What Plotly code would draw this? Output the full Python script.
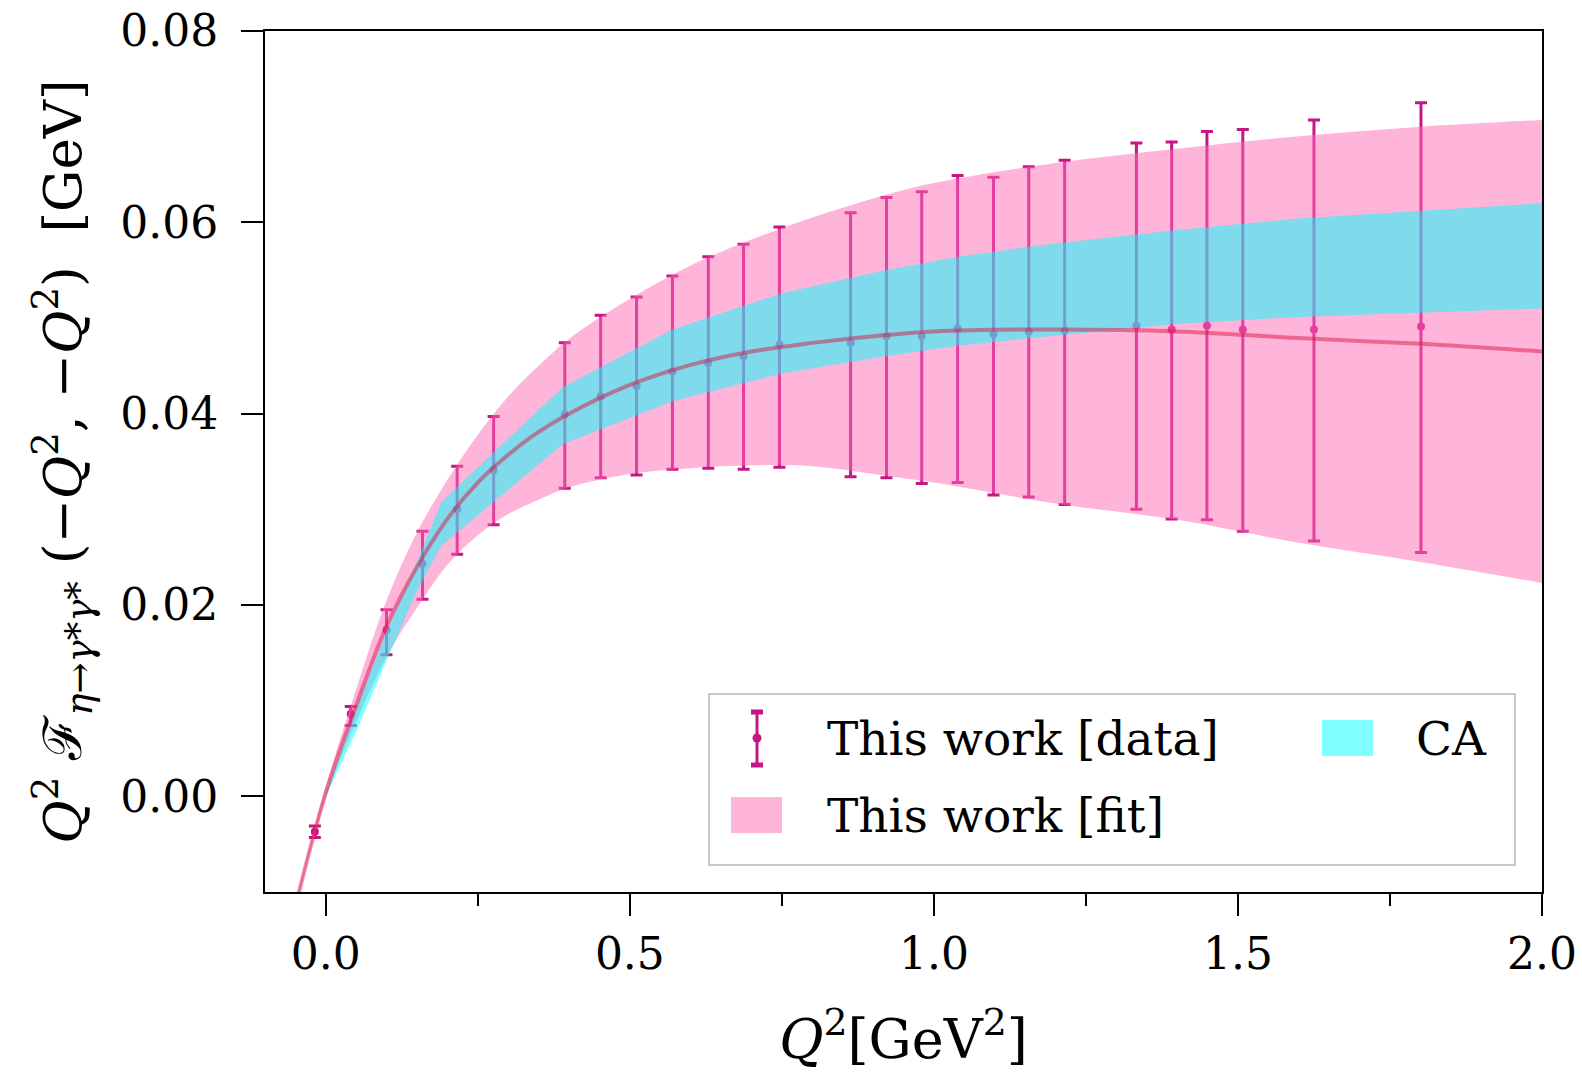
import plotly.graph_objects as go

# ---------------- data ----------------
q2_data = [-0.018, 0.041, 0.0998, 0.159, 0.216, 0.276, 0.393, 0.452, 0.511, 0.570,
           0.629, 0.687, 0.746, 0.863, 0.922, 0.980, 1.039, 1.098, 1.156, 1.215,
           1.333, 1.391, 1.449, 1.508, 1.625, 1.801]
ff_data = [-0.0037, 0.0086, 0.0174, 0.0243, 0.0300, 0.0341, 0.0399, 0.0418, 0.0429, 0.0444,
           0.0453, 0.0460, 0.0472, 0.0474, 0.0481, 0.0481, 0.0489, 0.0483, 0.0486, 0.0487,
           0.0492, 0.0488, 0.0492, 0.0488, 0.0488, 0.0491]
ff_top = [-0.0031, 0.0094, 0.0195, 0.0277, 0.0345, 0.0397, 0.0474, 0.0503, 0.0522, 0.0544,
          0.0564, 0.0577, 0.0595, 0.0610, 0.0626, 0.0632, 0.0649, 0.0647, 0.0658, 0.0665,
          0.0683, 0.0684, 0.0695, 0.0697, 0.0707, 0.0725]
ff_bottom = [-0.0043, 0.0074, 0.0148, 0.0206, 0.0253, 0.0284, 0.0322, 0.0333, 0.0336, 0.0342,
             0.0343, 0.0342, 0.0344, 0.0334, 0.0333, 0.0327, 0.0328, 0.0315, 0.0313, 0.0305,
             0.0300, 0.0290, 0.0289, 0.0277, 0.0267, 0.0255]

fit_x = [-0.05, 0.0, 0.05, 0.1, 0.15, 0.2, 0.25, 0.3, 0.35, 0.4, 0.5, 0.6, 0.7, 0.8, 0.9,
         1.0, 1.2, 1.4, 1.6, 1.8, 2.0]
fit_central = [-0.0115, 0.0004, 0.0095, 0.0178, 0.0240, 0.0290, 0.0328, 0.0357, 0.0381, 0.0400,
               0.0430, 0.0451, 0.0465, 0.0474, 0.0481, 0.0486, 0.0488, 0.0486, 0.0479, 0.0473,
               0.0465]
fit_upper = [-0.0112, 0.0010, 0.0112, 0.0205, 0.0276, 0.0331, 0.0378, 0.0418, 0.0450, 0.0478,
             0.0520, 0.0555, 0.0582, 0.0605, 0.0625, 0.0641, 0.0662, 0.0677, 0.0690, 0.0700,
             0.0707]
fit_lower = [-0.0118, -0.0002, 0.0078, 0.0146, 0.0197, 0.0242, 0.0273, 0.0295, 0.0310, 0.0323,
             0.0337, 0.0343, 0.0346, 0.0345, 0.0337, 0.0328, 0.0306, 0.0289, 0.0265, 0.0245,
             0.0223]

ca_x = [0.0, 0.05, 0.1, 0.15, 0.19, 0.39, 0.57, 0.75, 0.92, 1.04, 1.16, 1.40, 1.60, 2.0]
ca_upper = [0.0003, 0.0092, 0.0172, 0.0245, 0.0308, 0.0428, 0.0488, 0.0526, 0.0550, 0.0564,
            0.0575, 0.0592, 0.0604, 0.0620]
ca_lower = [0.0, 0.0068, 0.0142, 0.0215, 0.0262, 0.0368, 0.0413, 0.0442, 0.0460, 0.0471,
            0.0479, 0.0494, 0.0501, 0.0510]

x_ticks = [0.0, 0.5, 1.0, 1.5, 2.0]
y_ticks = [0.00, 0.02, 0.04, 0.06, 0.08]

err_plus = [t - c for t, c in zip(ff_top, ff_data)]
err_minus = [c - b for c, b in zip(ff_data, ff_bottom)]

# ---------------- style ----------------
MAGENTA = "#C71585"
PINK = "rgba(255,105,180,0.5)"
CYAN = "rgba(0,255,255,0.5)"
LINE = "rgba(215,25,70,0.5)"
FONT = "DejaVu Serif"

W, H = 1582, 1080
L, R, T, B = 265, 40, 31, 188
PW, PH = W - L - R, H - T - B


def px(x):
    """page pixel x -> paper coordinate"""
    return (x - L) / PW


def py(y):
    """page pixel y -> paper coordinate"""
    return (H - B - y) / PH


fig = go.Figure()

fig.add_trace(go.Scatter(
    x=q2_data, y=ff_data, mode="markers", name="This work [data]",
    marker=dict(color=MAGENTA, size=8),
    error_y=dict(type="data", symmetric=False, array=err_plus, arrayminus=err_minus,
                 color=MAGENTA, thickness=3, width=6),
    showlegend=False))

fig.add_trace(go.Scatter(x=fit_x, y=fit_lower, mode="lines", line=dict(width=0, shape="spline"),
                         showlegend=False, hoverinfo="skip"))
fig.add_trace(go.Scatter(x=fit_x, y=fit_upper, mode="lines", line=dict(width=0, shape="spline"),
                         fill="tonexty", fillcolor=PINK, name="This work [fit]", showlegend=False))

fig.add_trace(go.Scatter(x=ca_x, y=ca_lower, mode="lines", line=dict(width=0),
                         showlegend=False, hoverinfo="skip"))
fig.add_trace(go.Scatter(x=ca_x, y=ca_upper, mode="lines", line=dict(width=0),
                         fill="tonexty", fillcolor=CYAN, name="CA", showlegend=False))

fig.add_trace(go.Scatter(x=fit_x, y=fit_central, mode="lines",
                         line=dict(color=LINE, width=4, shape="spline"), showlegend=False))

axis_common = dict(
    showline=True, linecolor="black", linewidth=2, mirror=True,
    ticks="outside", ticklen=22, tickwidth=2, tickcolor="black",
    showgrid=False, zeroline=False, ticklabeloverflow="allow", automargin=False,
    tickfont=dict(family=FONT, size=44, color="black"),
)

fig.update_layout(
    width=W, height=H,
    margin=dict(l=L, r=R, t=T, b=B, pad=0, autoexpand=False),
    paper_bgcolor="white", plot_bgcolor="white",
    font=dict(family=FONT, size=44, color="black"),
    xaxis=dict(range=[-0.1, 2.0], tickvals=x_ticks, tickformat=".1f", ticklabelstandoff=0,
               minor=dict(dtick=0.25, tick0=0, ticks="outside", ticklen=12, tickwidth=2,
                          tickcolor="black", showgrid=False),
               title=dict(text="<i>Q</i><sup>2</sup>[GeV<sup>2</sup>]",
                          font=dict(family=FONT, size=54), standoff=42),
               **axis_common),
    yaxis=dict(range=[-0.01, 0.08], tickvals=y_ticks, tickformat=".2f", ticklabelstandoff=14,
               title=dict(text="<i>Q</i><sup>2</sup> ℱ<sub><i>η</i>→<i>γ</i>*<i>γ</i>*</sub> "
                               "(−<i>Q</i><sup>2</sup>, −<i>Q</i><sup>2</sup>)  [GeV]",
                          font=dict(family=FONT, size=53), standoff=22),
               **axis_common),
    showlegend=False,
)

# ---------------- legend (drawn by hand to match layout) ----------------
shapes = []
shapes.append(dict(type="rect", xref="paper", yref="paper",
                   x0=px(709), x1=px(1515), y0=py(865), y1=py(694),
                   line=dict(color="#c8c8c8", width=2), fillcolor="rgba(255,255,255,0.85)",
                   layer="above"))
# error-bar icon
ex = 757
shapes.append(dict(type="line", xref="paper", yref="paper", x0=px(ex), x1=px(ex),
                   y0=py(712), y1=py(765), line=dict(color=MAGENTA, width=3), layer="above"))
for yy in (712, 765):
    shapes.append(dict(type="line", xref="paper", yref="paper", x0=px(ex - 6), x1=px(ex + 6),
                       y0=py(yy), y1=py(yy), line=dict(color=MAGENTA, width=5), layer="above"))
shapes.append(dict(type="circle", xref="paper", yref="paper", x0=px(ex - 4.5), x1=px(ex + 4.5),
                   y0=py(738 + 4.5), y1=py(738 - 4.5), fillcolor=MAGENTA,
                   line=dict(color=MAGENTA, width=0), layer="above"))
# pink patch
shapes.append(dict(type="rect", xref="paper", yref="paper", x0=px(731), x1=px(782),
                   y0=py(833), y1=py(797), fillcolor=PINK, line=dict(width=0), layer="above"))
# cyan patch
shapes.append(dict(type="rect", xref="paper", yref="paper", x0=px(1322), x1=px(1373),
                   y0=py(756), y1=py(720), fillcolor=CYAN, line=dict(width=0), layer="above"))
fig.update_layout(shapes=shapes)

legend_font = dict(family=FONT, size=47, color="black")
for txt, x0, y0 in [("This work [data]", 825, 738), ("This work [fit]", 825, 815), ("CA", 1414, 738)]:
    fig.add_annotation(text=txt, xref="paper", yref="paper", x=px(x0), y=py(y0),
                       xanchor="left", yanchor="middle", showarrow=False, font=legend_font)

# remove the browser's default 8px body margin so the figure fills the window exactly
fig.write_html("out.html",
               config={"displayModeBar": False},
               post_script="document.body.style.margin='0';document.body.style.overflow='hidden';")
